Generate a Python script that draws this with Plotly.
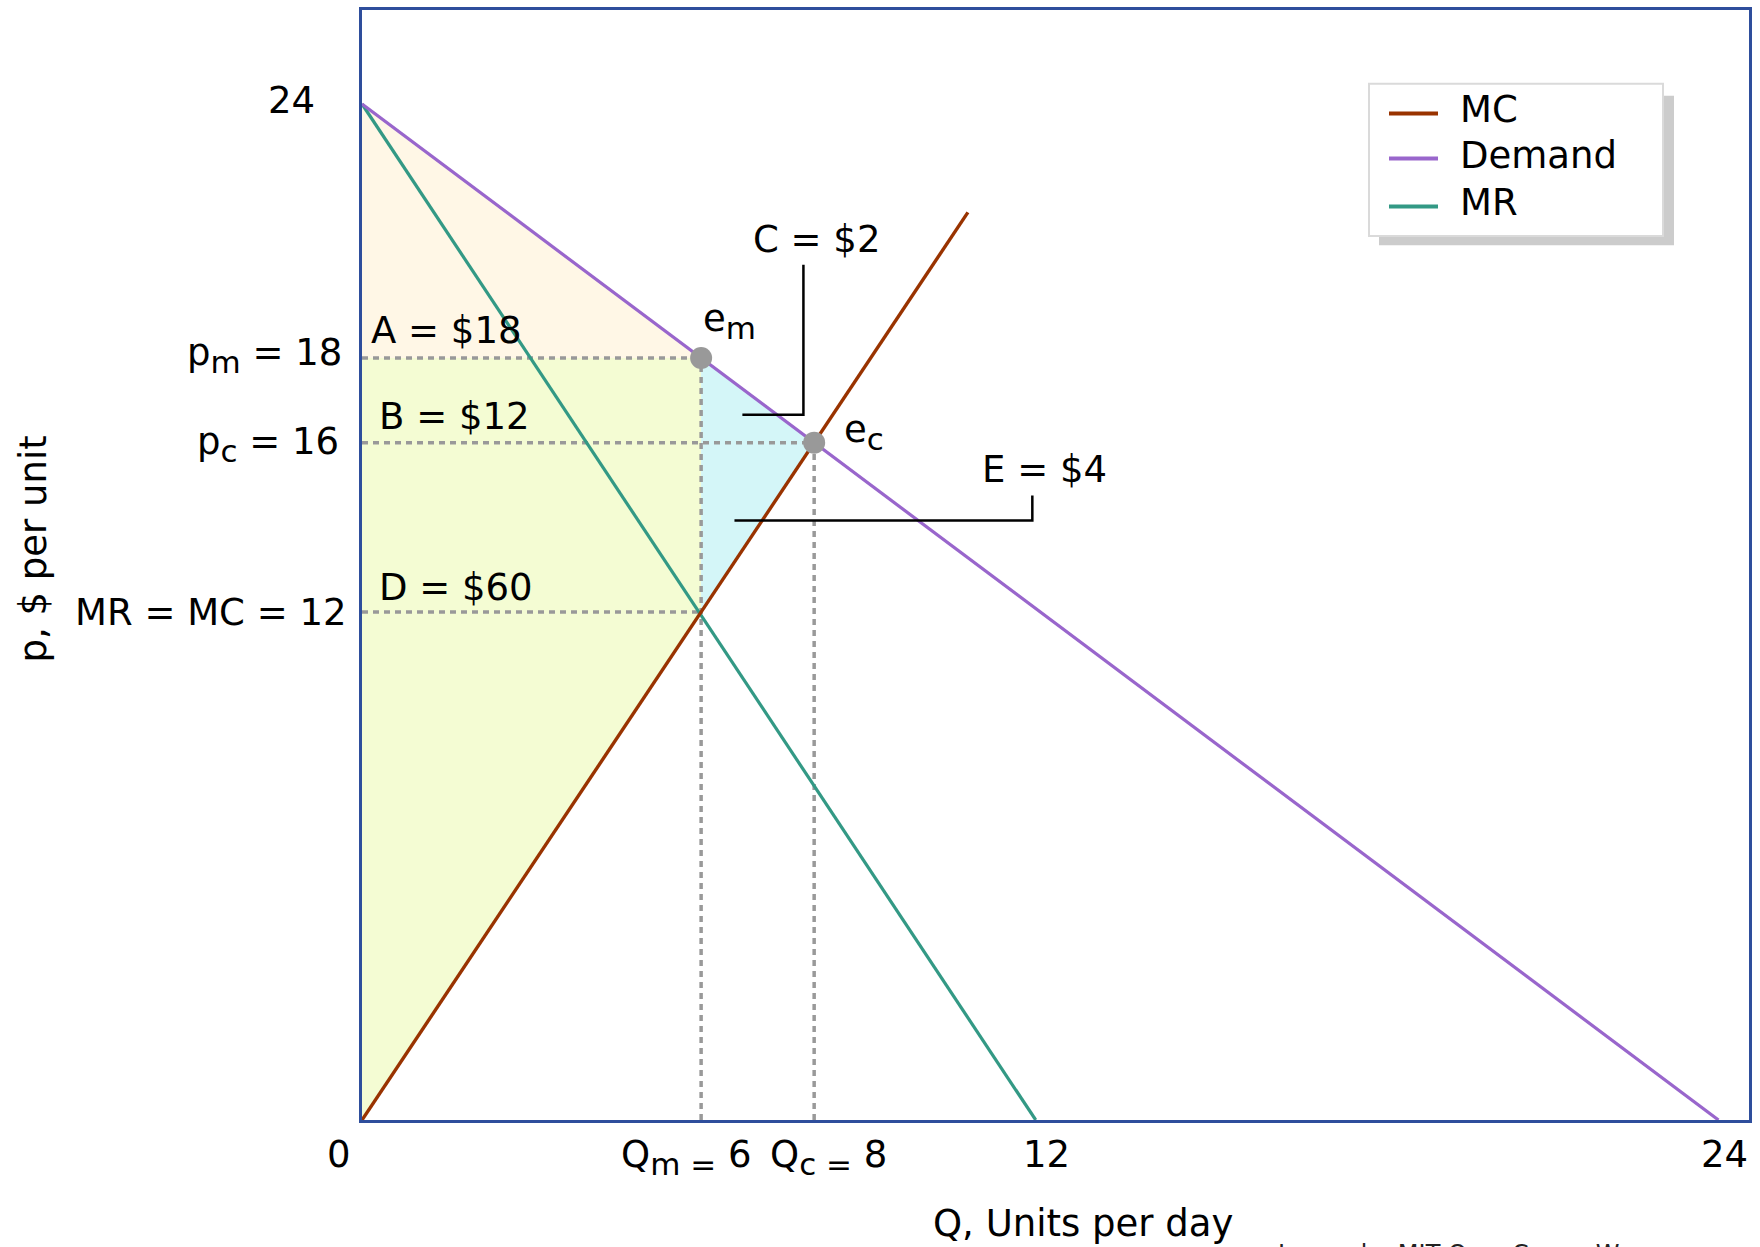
import plotly.graph_objects as go

# ---------------- data ----------------
q_mc = [0, 10.72]
p_mc = [0, 21.44]
q_demand = [0, 24]
p_demand = [24, 0]
q_mr = [0, 11.92]
p_mr = [24, 0]

q_m, p_m = 6, 18          # monopoly equilibrium e_m
q_c, p_c = 8, 16          # competitive equilibrium e_c
mr_mc = 12                # MR = MC level

area_A_q = [0, 6, 0]
area_A_p = [24, 18, 18]
area_BD_q = [0, 6, 6, 0]
area_BD_p = [18, 18, 12, 0]
area_CE_q = [6, 8, 6]
area_CE_p = [18, 16, 12]

callout_C_q = [6.73, 7.81, 7.81]
callout_C_p = [16.66, 16.66, 20.2]
callout_E_q = [6.59, 11.86, 11.86]
callout_E_p = [14.16, 14.16, 14.75]

SUB = '<sub><span style="font-size:31px">{}</span></sub>'

x_tick_vals = [0, 6, 8, 12, 24]
x_tick_text = ["0", "Q" + SUB.format("m =") + " 6", "Q" + SUB.format("c =") + " 8", "12", "24"]
y_tick_vals = [24, 18, 16, 12]
y_tick_text = ["24", "p" + SUB.format("m") + " = 18", "p" + SUB.format("c") + " = 16", "MR = MC = 12"]

area_labels = ["A = $18", "B = $12", "D = $60", "C = $2", "E = $4"]
area_label_q = [0.12, 0.26, 0.26, 8.05, 12.07]
area_label_p = [18.65, 16.61, 12.58, 20.79, 15.37]
area_label_anchor = ["left", "left", "left", "center", "center"]

legend_names = ["MC", "Demand", "MR"]

# ---------------- styles ----------------
W, H = 1760, 1247
ML, MR_, MT, MB = 362, 11, 7, 127
XMAX, YMAX = 24.54, 26.22
FONT = "DejaVu Sans"
FS = 37
C_MC = "#993300"
C_D = "#9966CC"
C_MR = "#339985"
C_DOT = "#999999"
FRAME = "#2E4E9C"

PW = W - ML - MR_
PH = H - MT - MB
kx = PW / XMAX
ky = PH / YMAX


def xpix(v):
    return ML + v * kx


def ypix(v):
    return MT + PH - v * ky


def px_paper_x(p):
    return (p - ML) / PW


def px_paper_y(p):
    return (MT + PH - p) / PH


fig = go.Figure()

# fills
fig.add_trace(go.Scatter(x=area_A_q, y=area_A_p, fill="toself", fillcolor="#FFF7E6",
                         mode="none", showlegend=False, hoverinfo="skip"))
fig.add_trace(go.Scatter(x=area_BD_q, y=area_BD_p, fill="toself", fillcolor="#F4FCD3",
                         mode="none", showlegend=False, hoverinfo="skip"))
fig.add_trace(go.Scatter(x=area_CE_q, y=area_CE_p, fill="toself", fillcolor="#D4F6F8",
                         mode="none", showlegend=False, hoverinfo="skip"))

# dotted guide lines
dot = dict(color=C_DOT, width=3.5, dash="6px,5px")
guides = [([0, q_m], [p_m, p_m]), ([0, q_c], [p_c, p_c]), ([0, q_m], [mr_mc, mr_mc]),
          ([q_m, q_m], [0, p_m]), ([q_c, q_c], [0, p_c])]
for gx, gy in guides:
    fig.add_trace(go.Scatter(x=gx, y=gy, mode="lines", line=dot,
                             showlegend=False, hoverinfo="skip"))

# curves
fig.add_trace(go.Scatter(x=q_mr, y=p_mr, mode="lines", name="MR",
                         line=dict(color=C_MR, width=3.2), showlegend=False))
fig.add_trace(go.Scatter(x=q_demand, y=p_demand, mode="lines", name="Demand",
                         line=dict(color=C_D, width=3.2), showlegend=False))
fig.add_trace(go.Scatter(x=q_mc, y=p_mc, mode="lines", name="MC",
                         line=dict(color=C_MC, width=3.4), showlegend=False))

# equilibrium points
fig.add_trace(go.Scatter(x=[q_m, q_c], y=[p_m, p_c], mode="markers",
                         marker=dict(color=C_DOT, size=22, line=dict(width=0)),
                         showlegend=False, hoverinfo="skip"))

# callouts
for cq, cp in [(callout_C_q, callout_C_p), (callout_E_q, callout_E_p)]:
    fig.add_trace(go.Scatter(x=cq, y=cp, mode="lines",
                             line=dict(color="black", width=2.5),
                             showlegend=False, hoverinfo="skip"))

ann = []
font = dict(family=FONT, size=FS, color="black")
CAP_OFF = 8.4  # px between annotation box top and cap top

# x tick labels
x_center_px = [339, 686, 828, 1046, 1724.6]
for v, t, cx in zip(x_tick_vals, x_tick_text, x_center_px):
    ann.append(dict(x=v, y=0, xref="x", yref="y", text=t, showarrow=False,
                    xanchor="center", yanchor="top", font=font,
                    xshift=cx - xpix(v), yshift=-(1139.5 - CAP_OFF - ypix(0))))

# y tick labels
y_right_px = [317, 344, 341, 349.3]
y_captop_px = [83, 335, 425, 596]
for v, t, rx, ct in zip(y_tick_vals, y_tick_text, y_right_px, y_captop_px):
    ann.append(dict(x=0, y=v, xref="x", yref="y", text=t, showarrow=False,
                    xanchor="right", yanchor="top", font=font,
                    xshift=rx - xpix(0), yshift=ypix(v) - (ct - CAP_OFF)))

# area labels
for t, q, p, a in zip(area_labels, area_label_q, area_label_p, area_label_anchor):
    ann.append(dict(x=q, y=p, xref="x", yref="y", text=t, showarrow=False,
                    xanchor=a, yanchor="middle", font=font))

# equilibrium labels
ann.append(dict(x=q_m, y=p_m, xref="x", yref="y", text="e" + SUB.format("m"), showarrow=False,
                xanchor="left", yanchor="top", font=font,
                xshift=701 - xpix(q_m), yshift=ypix(p_m) - (308.5 - 15.1)))
ann.append(dict(x=q_c, y=p_c, xref="x", yref="y", text="e" + SUB.format("c"), showarrow=False,
                xanchor="left", yanchor="top", font=font,
                xshift=842 - xpix(q_c), yshift=ypix(p_c) - (419 - 15.1)))

# axis titles
ann.append(dict(x=px_paper_x(1083), y=px_paper_y(1200.5), xref="paper", yref="paper",
                text="Q, Units per day", showarrow=False, xanchor="center", yanchor="top",
                font=font))
ann.append(dict(x=px_paper_x(34), y=px_paper_y(548), xref="paper", yref="paper",
                text="p, $ per unit", showarrow=False, xanchor="center", yanchor="middle",
                textangle=-90, font=font))
ann.append(dict(x=px_paper_x(1276), y=px_paper_y(1238.5), xref="paper", yref="paper",
                text="Image by MIT OpenCourseWare.", showarrow=False, xanchor="left",
                yanchor="top", font=dict(family=FONT, size=24, color="#222222")))

# manual legend
shapes = []
shapes.append(dict(type="rect", xref="paper", yref="paper",
                   x0=px_paper_x(1379), x1=px_paper_x(1674),
                   y0=px_paper_y(243), y1=px_paper_y(93),
                   fillcolor="#CCCCCC", line=dict(width=0), layer="above"))
shapes.append(dict(type="rect", xref="paper", yref="paper",
                   x0=px_paper_x(1369), x1=px_paper_x(1663),
                   y0=px_paper_y(233.5), y1=px_paper_y(81),
                   fillcolor="white", line=dict(color="#DADADA", width=2), layer="above"))
leg_colors = [C_MC, C_D, C_MR]
leg_y = [110.7, 156, 204]
for name, col, ly in zip(legend_names, leg_colors, leg_y):
    shapes.append(dict(type="line", xref="paper", yref="paper",
                       x0=px_paper_x(1389), x1=px_paper_x(1438),
                       y0=px_paper_y(ly), y1=px_paper_y(ly),
                       line=dict(color=col, width=4), layer="above"))
    ann.append(dict(x=px_paper_x(1457.5), y=px_paper_y(ly - 3.5), xref="paper", yref="paper",
                    text=name, showarrow=False, xanchor="left", yanchor="middle", font=font))

axis_common = dict(showgrid=False, zeroline=False, showticklabels=False, ticks="",
                   showline=True, mirror=True, linecolor=FRAME, linewidth=2.5, fixedrange=True)

fig.update_layout(
    width=W, height=H, autosize=False,
    margin=dict(l=ML, r=MR_, t=MT, b=MB, pad=0),
    paper_bgcolor="white", plot_bgcolor="white",
    xaxis=dict(range=[0, XMAX], **axis_common),
    yaxis=dict(range=[0, YMAX], **axis_common),
    annotations=ann, shapes=shapes, showlegend=False,
    font=dict(family=FONT),
)

fig.write_html("out.html", config={"displayModeBar": False},
               post_script="document.body.style.margin='0px';document.body.style.overflow='hidden';")
